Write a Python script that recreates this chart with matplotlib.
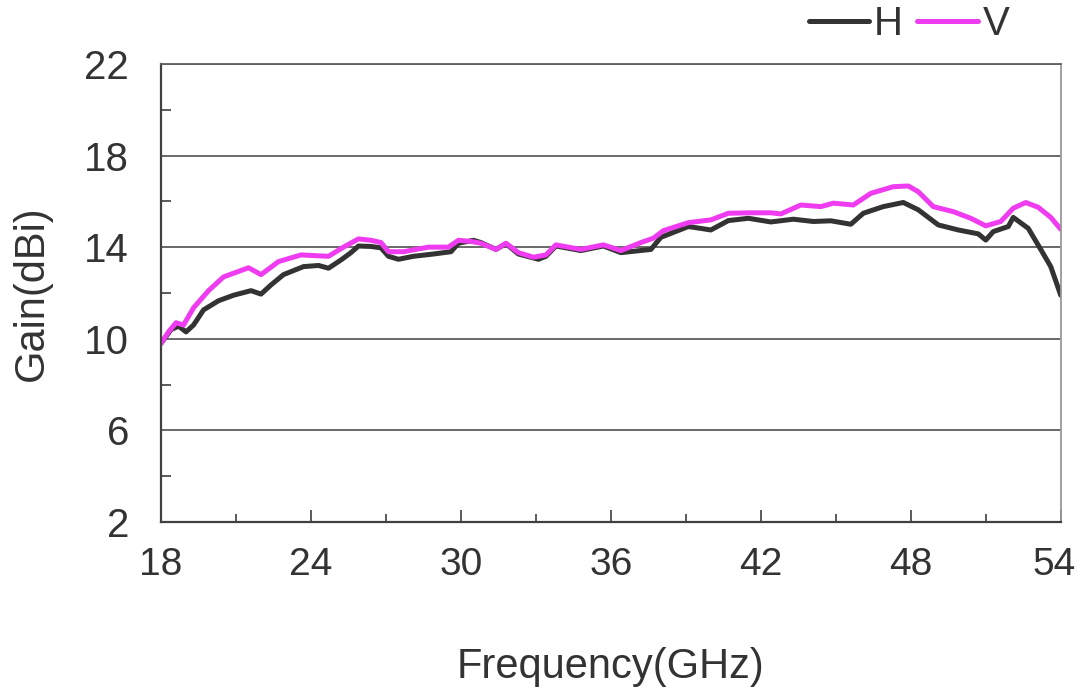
import matplotlib
matplotlib.use("Agg")
import matplotlib.pyplot as plt
import matplotlib.transforms as mtransforms
from matplotlib.ticker import FixedLocator

plt.rcParams['font.family'] = ['Liberation Sans', 'DejaVu Sans']

# Gain readings (GHz, dBi)
freq_v = [18.0, 18.3, 18.6, 18.9, 19.3, 19.9, 20.5, 21.0, 21.5, 22.0, 22.7, 23.6,
          24.7, 25.3, 25.9, 26.4, 26.8, 27.1, 27.7, 28.7, 29.5, 29.9, 30.4, 30.8,
          31.4, 31.8, 32.3, 32.9, 33.4, 33.8, 34.8, 35.7, 36.4, 37.2, 37.7, 38.1,
          39.1, 40.0, 40.7, 41.6, 42.4, 42.8, 43.6, 44.4, 44.9, 45.7, 46.4, 47.3,
          47.9, 48.3, 48.9, 49.7, 50.4, 51.0, 51.6, 52.1, 52.6, 53.1, 53.6, 54.0]
gain_v = [9.8, 10.3, 10.7, 10.6, 11.35, 12.1, 12.7, 12.9, 13.1, 12.8, 13.37, 13.66,
          13.6, 14.0, 14.36, 14.3, 14.2, 13.8, 13.8, 14.0, 14.0, 14.3, 14.25, 14.17,
          13.9, 14.17, 13.76, 13.56, 13.66, 14.1, 13.9, 14.1, 13.85, 14.2, 14.39, 14.72,
          15.07, 15.19, 15.48, 15.5, 15.5, 15.45, 15.84, 15.77, 15.92, 15.84, 16.35, 16.64,
          16.67, 16.42, 15.77, 15.55, 15.26, 14.93, 15.12, 15.7, 15.95, 15.74, 15.3, 14.78]

freq_h = [18.0, 18.4, 18.7, 19.0, 19.3, 19.7, 20.3, 20.9, 21.6, 22.0, 22.4, 22.9,
          23.7, 24.3, 24.7, 25.2, 25.6, 25.9, 26.4, 26.8, 27.1, 27.5, 28.1, 28.9,
          29.6, 29.9, 30.5, 30.8, 31.4, 31.8, 32.3, 33.1, 33.4, 33.8, 34.8, 35.7,
          36.4, 37.6, 38.0, 39.1, 40.0, 40.7, 41.5, 42.4, 43.3, 44.1, 44.8, 45.6,
          46.1, 46.9, 47.7, 48.3, 49.1, 49.9, 50.7, 51.0, 51.3, 51.9, 52.1, 52.7,
          53.2, 53.6, 54.0]
gain_h = [9.8, 10.4, 10.55, 10.3, 10.6, 11.26, 11.66, 11.9, 12.1, 11.95, 12.35, 12.8,
          13.15, 13.2, 13.08, 13.44, 13.76, 14.05, 14.03, 13.97, 13.6, 13.47, 13.6, 13.7,
          13.8, 14.17, 14.3, 14.2, 13.9, 14.15, 13.7, 13.47, 13.6, 14.05, 13.85, 14.05,
          13.76, 13.9, 14.43, 14.9, 14.75, 15.16, 15.26, 15.1, 15.22, 15.12, 15.15, 15.0,
          15.48, 15.77, 15.95, 15.63, 14.97, 14.75, 14.58, 14.31, 14.68, 14.9, 15.3, 14.82,
          13.9, 13.15, 11.9]

x_major = [18, 24, 30, 36, 42, 48, 54]
x_minor = [21, 27, 33, 39, 45, 51]
y_major = [2, 6, 10, 14, 18, 22]
y_minor = [4, 8, 12, 16, 20]

txt = '#333333'

fig = plt.figure(figsize=(10.78, 6.95), dpi=100)
ax = fig.add_axes([0.1494, 0.249, 0.8346, 0.659])

ax.plot(freq_h, gain_h, color='#333333', lw=3.6, label='H', solid_capstyle='round')
ax.plot(freq_v, gain_v, color='#F03CF0', lw=3.6, label='V', solid_capstyle='round')

ax.set_xlim(18, 54)
ax.set_ylim(2, 22)
ax.set_xticks(x_major, [str(v) for v in x_major])
ax.xaxis.set_minor_locator(FixedLocator(x_minor))
ax.yaxis.set_major_locator(FixedLocator(y_major))
ax.yaxis.set_minor_locator(FixedLocator(y_minor))

ax.grid(axis='y', which='major', color='#404040', lw=1.1)
ax.set_axisbelow(True)

ax.tick_params(axis='x', which='major', direction='in', length=9, width=1.2,
               color='#404040', labelsize=28, labelcolor=txt, pad=18)
ax.tick_params(axis='x', which='minor', direction='in', length=6, width=1.2,
               color='#404040')
ax.tick_params(axis='y', which='major', direction='in', length=0,
               labelsize=29, labelcolor=txt, pad=23)
ax.tick_params(axis='y', which='minor', direction='in', length=7, width=1.2,
               color='#404040')

for side in ['left', 'bottom']:
    ax.spines[side].set_color('#404040')
    ax.spines[side].set_linewidth(1.6)
ax.spines['top'].set_color('#606060')
ax.spines['top'].set_linewidth(1.3)
ax.spines['right'].set_color('#999999')
ax.spines['right'].set_linewidth(1.3)

ax.set_xlabel('Frequency(GHz)', fontsize=30, color=txt, labelpad=46)
ax.set_ylabel('Gain(dBi)', fontsize=30, color=txt, labelpad=23)

# nudge the "54" label inward so it stays on the canvas
for lbl in ax.get_xticklabels():
    if lbl.get_text() == '54':
        lbl.set_transform(lbl.get_transform() +
                          mtransforms.ScaledTranslation(-7 / 100, 0, fig.dpi_scale_trans))

fig.legend(loc='upper right', bbox_to_anchor=(0.97, 1.045), ncol=2, frameon=False,
           fontsize=29, handlelength=1.5, handletextpad=0.12, columnspacing=0.35,
           labelcolor=txt)

fig.savefig('out.png', dpi=100)
